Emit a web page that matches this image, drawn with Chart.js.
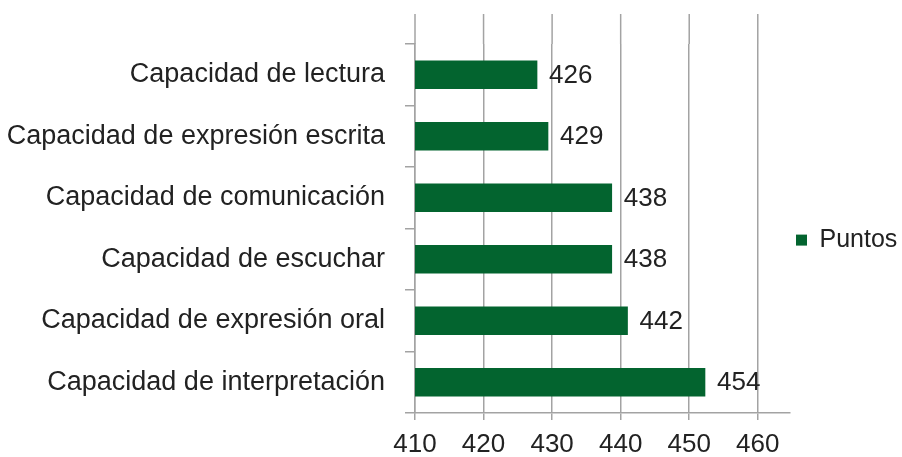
<!DOCTYPE html>
<html>
<head>
<meta charset="utf-8">
<script src="https://cdn.jsdelivr.net/npm/chart.js@4.4.0/dist/chart.umd.min.js"></script>
<style>
  html, body { margin: 0; padding: 0; background: #fff; }
</style>
</head>
<body>
<canvas id="puntosChart" width="902" height="457"></canvas>
<script>
// Categories, top to bottom
const categories = [
  "Capacidad de lectura",
  "Capacidad de expresión escrita",
  "Capacidad de comunicación",
  "Capacidad de escuchar",
  "Capacidad de expresión oral",
  "Capacidad de interpretación"
];
// Bar lengths
const barValues = [427.8, 429.4, 438.7, 438.7, 441.0, 452.3];
// Scores printed next to each bar
const scoreLabels = ["426", "429", "438", "438", "442", "454"];
// X axis ticks
const xTicks = [410, 420, 430, 440, 450, 460];

const FONT = "'Liberation Sans', Arial, sans-serif";
const TEXT = "#222222";
const GRID = "#a3a3a3";

// print the score at the end of each bar
const barLabels = {
  id: "barLabels",
  afterDatasetsDraw(chart) {
    const ctx = chart.ctx;
    const meta = chart.getDatasetMeta(0);
    ctx.save();
    ctx.font = "26px " + FONT;
    ctx.fillStyle = TEXT;
    ctx.textAlign = "left";
    ctx.textBaseline = "middle";
    meta.data.forEach(function (bar, i) {
      ctx.fillText(scoreLabels[i], bar.x + 12, bar.y + 1);
    });
    ctx.restore();
  }
};

// gridlines run a bit above the first category
const topExtend = {
  id: "topExtend",
  beforeDatasetsDraw(chart) {
    const ctx = chart.ctx;
    const x = chart.scales.x;
    const top = chart.chartArea.top;
    ctx.save();
    ctx.strokeStyle = GRID;
    ctx.lineWidth = 1.5;
    xTicks.forEach(function (v) {
      const px = x.getPixelForValue(v);
      ctx.beginPath();
      ctx.moveTo(px, 14);
      ctx.lineTo(px, top);
      ctx.stroke();
    });
    ctx.restore();
  }
};

new Chart(document.getElementById("puntosChart").getContext("2d"), {
  type: "bar",
  data: {
    labels: categories,
    datasets: [{
      label: "Puntos",
      data: barValues,
      backgroundColor: "#03642f",
      borderWidth: 0,
      barThickness: 28,
      categoryPercentage: 1
    }]
  },
  options: {
    indexAxis: "y",
    responsive: false,
    animation: false,
    layout: { padding: { top: 44, right: 0, bottom: 0, left: 0 } },
    plugins: {
      tooltip: { enabled: false },
      legend: {
        position: "right",
        fullSize: false,
        maxWidth: 112,
        title: { display: true, text: "", font: { size: 1 }, padding: { top: 22, bottom: 0 } },
        labels: {
          boxWidth: 11,
          boxHeight: 11,
          padding: 6,
          color: TEXT,
          font: { family: FONT, size: 25 }
        }
      }
    },
    scales: {
      x: {
        min: 410,
        max: 464.7,
        afterBuildTicks: function (scale) {
          scale.ticks = xTicks.map(function (v) { return { value: v }; });
        },
        afterFit: function (scale) { scale.height = 44; },
        grid: { color: GRID, lineWidth: 1.5, tickLength: 7, drawTicks: true },
        border: { color: GRID, width: 1.5 },
        ticks: {
          color: TEXT,
          font: { family: FONT, size: 26 },
          padding: 9,
          maxRotation: 0,
          autoSkip: false
        }
      },
      y: {
        afterFit: function (scale) { scale.width = 415; },
        grid: { drawOnChartArea: false, color: GRID, lineWidth: 1.5, tickLength: 10 },
        border: { color: GRID, width: 1.5 },
        ticks: {
          color: TEXT,
          font: { family: FONT, size: 27 },
          padding: 20
        }
      }
    }
  },
  plugins: [barLabels, topExtend]
});
</script>
</body>
</html>
